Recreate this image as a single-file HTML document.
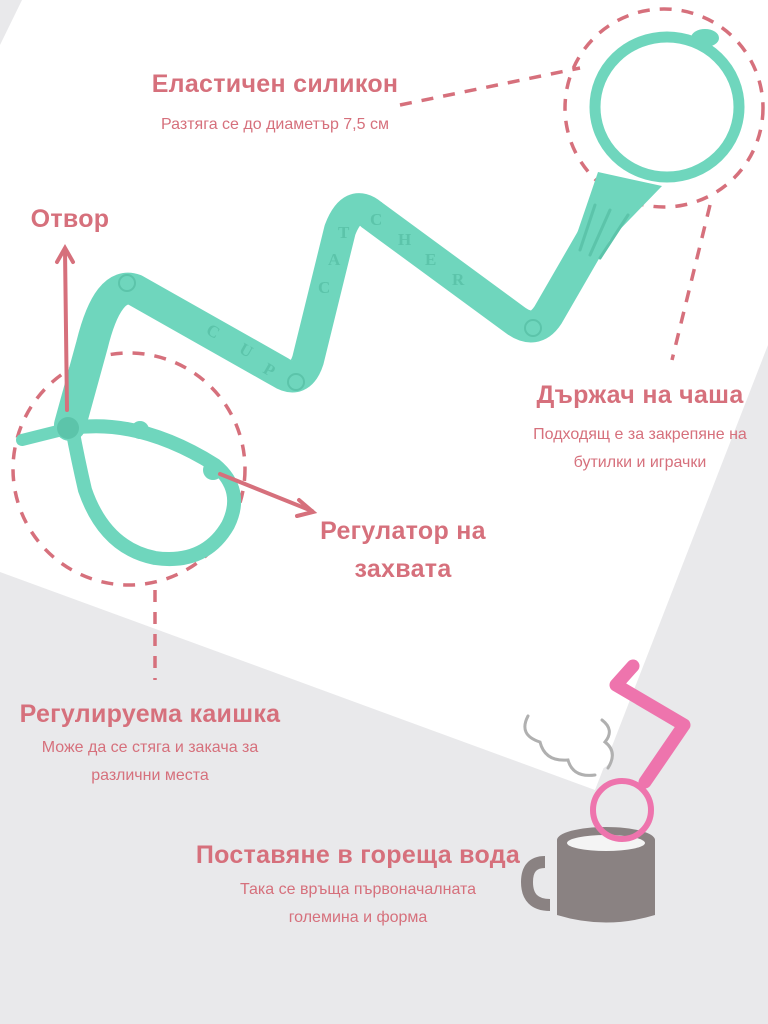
<!DOCTYPE html>
<html><head><meta charset="utf-8"><style>
html,body{margin:0;padding:0;}
body{width:768px;height:1024px;position:relative;overflow:hidden;background:#e9e9eb;font-family:"Liberation Sans Narrow","Liberation Sans",sans-serif;}
svg{position:absolute;left:0;top:0;}
.t{position:absolute;color:#d6707c;text-align:center;white-space:nowrap;}
.h{font-weight:bold;font-size:25px;letter-spacing:0.3px;}
.s{font-size:16px;line-height:28px;}
</style></head><body>
<svg width="768" height="1024" viewBox="0 0 768 1024">
  <polygon points="22,0 768,0 768,345 595,790 0,572 0,45" fill="#ffffff"/>
  <!-- dashed circles -->
  <g fill="none" stroke="#d6707c" stroke-width="3.5" stroke-dasharray="12,10">
    <circle cx="664" cy="108" r="99"/>
    <circle cx="129" cy="469" r="116"/>
    <line x1="400" y1="105" x2="580" y2="68"/>
    <line x1="710" y1="205" x2="672" y2="360"/>
    <line x1="155" y1="590" x2="155" y2="680"/>
  </g>
  <!-- strap -->
  <g fill="none" stroke="#6fd6bd" stroke-linecap="round" stroke-linejoin="round">
    <path d="M70 425 L92 345 Q108 280 135 290 L280 372 Q300 385 308 360 L340 230 Q352 198 372 215 L515 320 Q535 335 548 315 L600 225" stroke-width="32"/>
    <path d="M72 428 Q140 418 215 465 Q245 490 228 525 Q205 565 155 558 Q105 548 85 490 Q78 460 72 428" stroke-width="14"/>
    <line x1="22" y1="440" x2="70" y2="428" stroke-width="12"/>
  </g>
  <polygon points="568,260 598,172 662,186 600,250" fill="#6fd6bd"/>
  <ellipse cx="667" cy="107" rx="72" ry="70" fill="none" stroke="#6fd6bd" stroke-width="11"/>
  <ellipse cx="705" cy="38" rx="14" ry="9" fill="#6fd6bd"/>
  <g stroke="#5cc4aa" stroke-width="3" stroke-linecap="round">
    <line x1="595" y1="205" x2="580" y2="250"/><line x1="610" y1="210" x2="590" y2="255"/><line x1="628" y1="215" x2="600" y2="258"/>
  </g>
  <g fill="#5cc4aa" font-family="Liberation Serif,serif" font-weight="bold" font-size="17">
    <text x="205" y="333" transform="rotate(30 205 333)">C</text>
    <text x="238" y="352" transform="rotate(30 238 352)">U</text>
    <text x="262" y="372" transform="rotate(30 262 372)">P</text>
    <text x="318" y="293">C</text><text x="328" y="265">A</text><text x="338" y="238">T</text>
    <text x="370" y="225">C</text><text x="398" y="245">H</text><text x="425" y="265">E</text><text x="452" y="285">R</text>
  </g>
  <g fill="none" stroke="#5cc4aa" stroke-width="2">
    <circle cx="127" cy="283" r="8"/><circle cx="296" cy="382" r="8"/><circle cx="533" cy="328" r="8"/>
  </g>
  <circle cx="68" cy="428" r="11" fill="#5cc4aa"/>
  <circle cx="140" cy="430" r="9" fill="#6fd6bd"/>
  <circle cx="213" cy="470" r="10" fill="#6fd6bd"/>
  <!-- arrows -->
  <g stroke="#d6707c" stroke-width="4" fill="none" stroke-linecap="round">
    <line x1="67" y1="410" x2="65" y2="250"/>
    <polyline points="57,262 65,248 73,262"/>
    <line x1="220" y1="474" x2="312" y2="511"/>
    <polyline points="299,500 313,512 297,516"/>
  </g>
  <!-- steam -->
  <path d="M528 718 Q520 738 545 742 Q548 760 570 758 Q575 778 600 770 Q618 762 608 745 Q620 735 605 722 Z" fill="#fff"/>
  <g fill="none" stroke="#b0b0b0" stroke-width="3" stroke-linecap="round">
    <path d="M528 716 Q518 735 540 742 Q545 762 568 760 Q573 778 595 775"/>
    <path d="M602 720 Q615 730 605 742 Q618 752 608 768"/>
  </g>
  <!-- mug -->
  <path d="M545 862 Q527 862 527 882 Q527 905 550 905" fill="none" stroke="#8a8282" stroke-width="12"/>
  <path d="M557 840 L655 840 L655 915 Q606 930 557 915 Z" fill="#8a8282"/>
  <ellipse cx="606" cy="840" rx="49" ry="13" fill="#8a8282"/>
  <ellipse cx="606" cy="843" rx="39" ry="8" fill="#f4f4f4"/>
  <!-- pink hook -->
  <g fill="none" stroke="#ee74ad" stroke-linecap="round" stroke-linejoin="round">
    <polyline points="633,666 616,685 684,725 645,782" stroke-width="13"/>
    <circle cx="622" cy="810" r="29" stroke-width="6"/>
  </g>
</svg>
<div class="t h" style="left:125px;top:70px;width:300px;">Еластичен силикон</div>
<div class="t s" style="left:125px;top:111px;width:300px;">Разтяга се до диаметър 7,5 см</div>
<div class="t h" style="left:20px;top:205px;width:100px;">Отвор</div>
<div class="t h" style="left:490px;top:381px;width:300px;">Държач на чаша</div>
<div class="t s" style="left:490px;top:421px;width:300px;">Подходящ е за закрепяне на<br>бутилки и играчки</div>
<div class="t h" style="left:283px;top:512px;width:240px;line-height:38px;">Регулатор на<br>захвата</div>
<div class="t h" style="left:0px;top:700px;width:300px;">Регулируема каишка</div>
<div class="t s" style="left:0px;top:734px;width:300px;">Може да се стяга и закача за<br>различни места</div>
<div class="t h" style="left:188px;top:841px;width:340px;">Поставяне в гореща вода</div>
<div class="t s" style="left:188px;top:876px;width:340px;">Така се връща първоначалната<br>големина и форма</div>
</body></html>
